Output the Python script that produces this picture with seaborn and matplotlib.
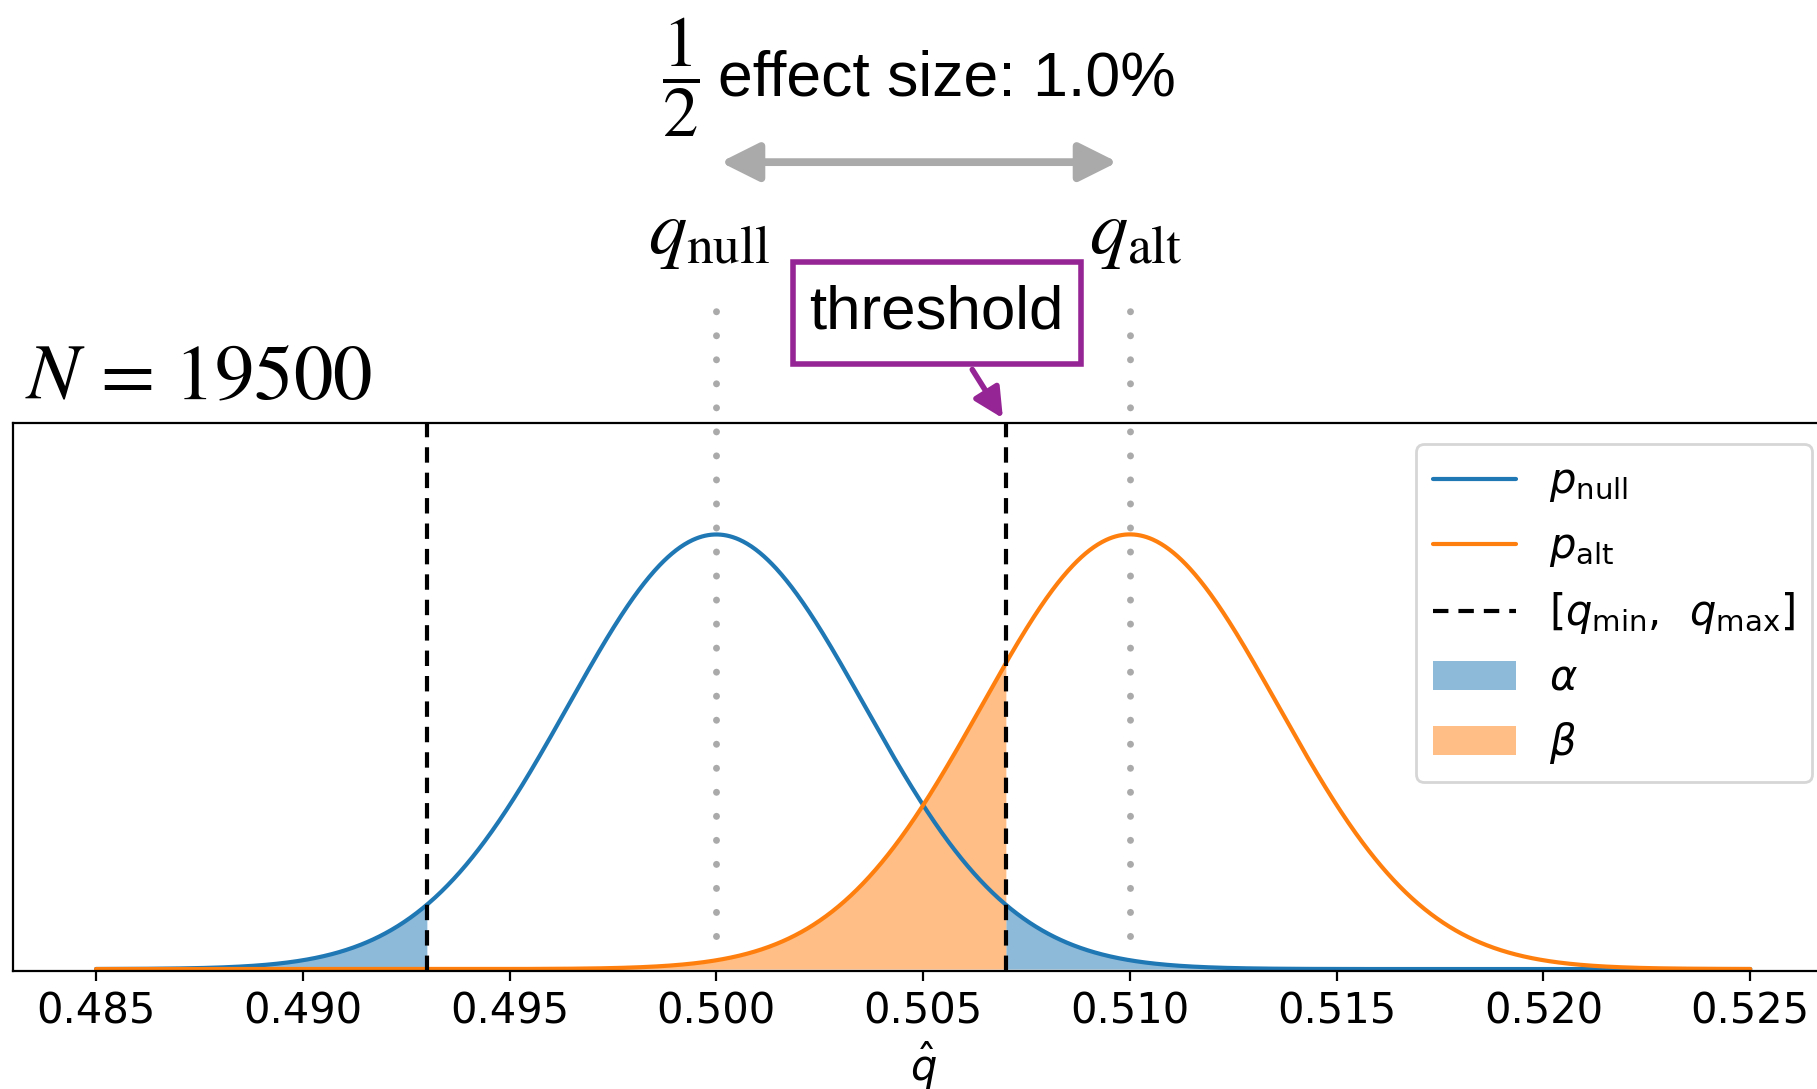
import numpy as np
import pandas as pd
import matplotlib
matplotlib.use("Agg")
import matplotlib.pyplot as plt
import matplotlib.transforms as mtransforms
from matplotlib.lines import Line2D
from matplotlib.patches import Patch
from matplotlib.path import Path
import seaborn as sns

# ---------------- data ----------------
N = 19500
q_null = 0.500
q_alt = 0.510
q_min = 0.493
q_max = 0.507
q_range = [0.485, 0.525]
x_ticks = [0.485, 0.490, 0.495, 0.500, 0.505, 0.510, 0.515, 0.520, 0.525]
x_tick_labels = ["0.485", "0.490", "0.495", "0.500", "0.505", "0.510", "0.515", "0.520", "0.525"]
series_names = ["null", "alt"]
legend_labels = [r"$p_{\mathrm{null}}$", r"$p_{\mathrm{alt}}$",
                 r"$[q_{\mathrm{min}},\ \,q_{\mathrm{max}}]$", r"$\alpha$", r"$\beta$"]

# ---------------- style ----------------
sns.set_style("ticks", rc={
    "axes.edgecolor": "black", "xtick.color": "black", "ytick.color": "black",
    "text.color": "black", "axes.labelcolor": "black",
    "axes.linewidth": 0.8, "xtick.major.size": 3.5, "xtick.major.width": 0.8,
})
plt.rcParams["font.family"] = ["DejaVu Sans"]
plt.rcParams["mathtext.fontset"] = "dejavusans"

C0, C1 = "#1f77b4", "#ff7f0e"
PURPLE = "#952594"
GREY = "#aaaaaa"

fig = plt.figure(figsize=(9.085, 5.445), dpi=200)
ax = fig.add_axes([0.00732, 0.10836, 1.00148, 0.50322])
trans = mtransforms.blended_transform_factory(ax.transData, ax.transAxes)

# sampling distributions of q-hat for the given N
x = np.linspace(q_range[0], q_range[1], 1601)
sd_null = np.sqrt(q_null * (1 - q_null) / N)
sd_alt = np.sqrt(q_alt * (1 - q_alt) / N)
pdf_null = np.exp(-0.5 * ((x - q_null) / sd_null) ** 2) / (sd_null * np.sqrt(2 * np.pi))
pdf_alt = np.exp(-0.5 * ((x - q_alt) / sd_alt) ** 2) / (sd_alt * np.sqrt(2 * np.pi))

df = pd.DataFrame({
    "q": np.concatenate([x, x]),
    "density": np.concatenate([pdf_null, pdf_alt]),
    "dist": [series_names[0]] * len(x) + [series_names[1]] * len(x),
})

# shaded error regions (drawn under the curves)
ax.fill_between(x, 0, pdf_null, where=x <= q_min, color=C0, alpha=0.5, lw=0, zorder=1)
ax.fill_between(x, 0, pdf_null, where=x >= q_max, color=C0, alpha=0.5, lw=0, zorder=1)
ax.fill_between(x, 0, pdf_alt, where=(x >= q_min) & (x <= q_max), color=C1, alpha=0.5, lw=0, zorder=1)

sns.lineplot(data=df, x="q", y="density", hue="dist", hue_order=series_names,
             palette={"null": C0, "alt": C1}, ax=ax, legend=False, linewidth=1.5,
             zorder=2, sort=False)

# decision thresholds
for q in (q_min, q_max):
    ax.axvline(q, color="black", lw=1.5, ls=(0, (3.7, 2.4)), zorder=3)

# dotted markers at q_null / q_alt, extending above the axes
for q in (q_null, q_alt):
    ax.plot([q, q], [0.064, 1.212], transform=trans, clip_on=False, color=GREY,
            lw=2.5, ls=(0, (0.01, 3.45)), dash_capstyle="round", zorder=1.5)

ax.set_xlim(0.483, 0.527)
ax.set_ylim(-0.5, 140)
ax.set_yticks([])
ax.set_xticks(x_ticks)
ax.set_xticklabels(x_tick_labels, fontsize=15)
ax.set_xlabel(r"$\hat{q}$", fontsize=15, labelpad=2.5)
ax.set_ylabel("")

# title
ax.text(0.0067, 1.0438, rf"$N\,=\,{N}$", transform=ax.transAxes, ha="left", va="baseline",
        fontsize=28.4, math_fontfamily="stix")

# q labels
ax.text(q_null - 0.00017, 1.310, r"$q_{\mathrm{null}}$", transform=trans, ha="center",
        va="baseline", fontsize=27.5, math_fontfamily="stix")
ax.text(q_alt + 0.00015, 1.310, r"$q_{\mathrm{alt}}$", transform=trans, ha="center",
        va="baseline", fontsize=27.5, math_fontfamily="stix")

# effect size arrow + text
ax.annotate("", xy=(0.5097, 1.476), xytext=(0.5001, 1.476), xycoords=trans, textcoords=trans,
            annotation_clip=False,
            arrowprops=dict(arrowstyle="<|-|>", color=GREY, lw=2.8, shrinkA=0, shrinkB=0,
                            mutation_scale=29))
ax.text(0.49914, 1.631, r"$\dfrac{1}{2}$", transform=trans, ha="center", va="center",
        fontsize=25.5, math_fontfamily="stix")
ax.text(q_null + 0.00005, 1.598, f"effect size: {(q_alt - q_null) * 100:.1f}%",
        transform=trans, ha="left", va="baseline", fontsize=22.5, family="Liberation Sans")


# threshold annotation (square box, slightly taller than wide padding)
def tall_box(x0, y0, width, height, mutation_size):
    padx = 0.27 * mutation_size
    pady = 0.36 * mutation_size
    x0, y0 = x0 - padx, y0 - pady
    w, h = width + 2 * padx, height + 2 * pady
    return Path([(x0, y0), (x0 + w, y0), (x0 + w, y0 + h), (x0, y0 + h), (x0, y0)],
                closed=True)


ax.annotate("threshold", xy=(q_max, 1.0), xycoords=trans,
            xytext=(0.50533, 1.2007), textcoords=trans, ha="center", va="center",
            fontsize=22.3, family="Liberation Sans", annotation_clip=False,
            bbox=dict(boxstyle=tall_box, fc="white", ec=PURPLE, lw=2),
            arrowprops=dict(arrowstyle="-|>", color=PURPLE, lw=2))

# legend
handles = [
    Line2D([], [], color=C0, lw=1.5),
    Line2D([], [], color=C1, lw=1.5),
    Line2D([], [], color="black", lw=1.5, ls=(0, (3.7, 2.4))),
    Patch(facecolor=C0, alpha=0.5, lw=0),
    Patch(facecolor=C1, alpha=0.5, lw=0),
]
ax.legend(handles, legend_labels, loc="upper right", fontsize=15, frameon=True)

fig.savefig("out.png", dpi=200)
